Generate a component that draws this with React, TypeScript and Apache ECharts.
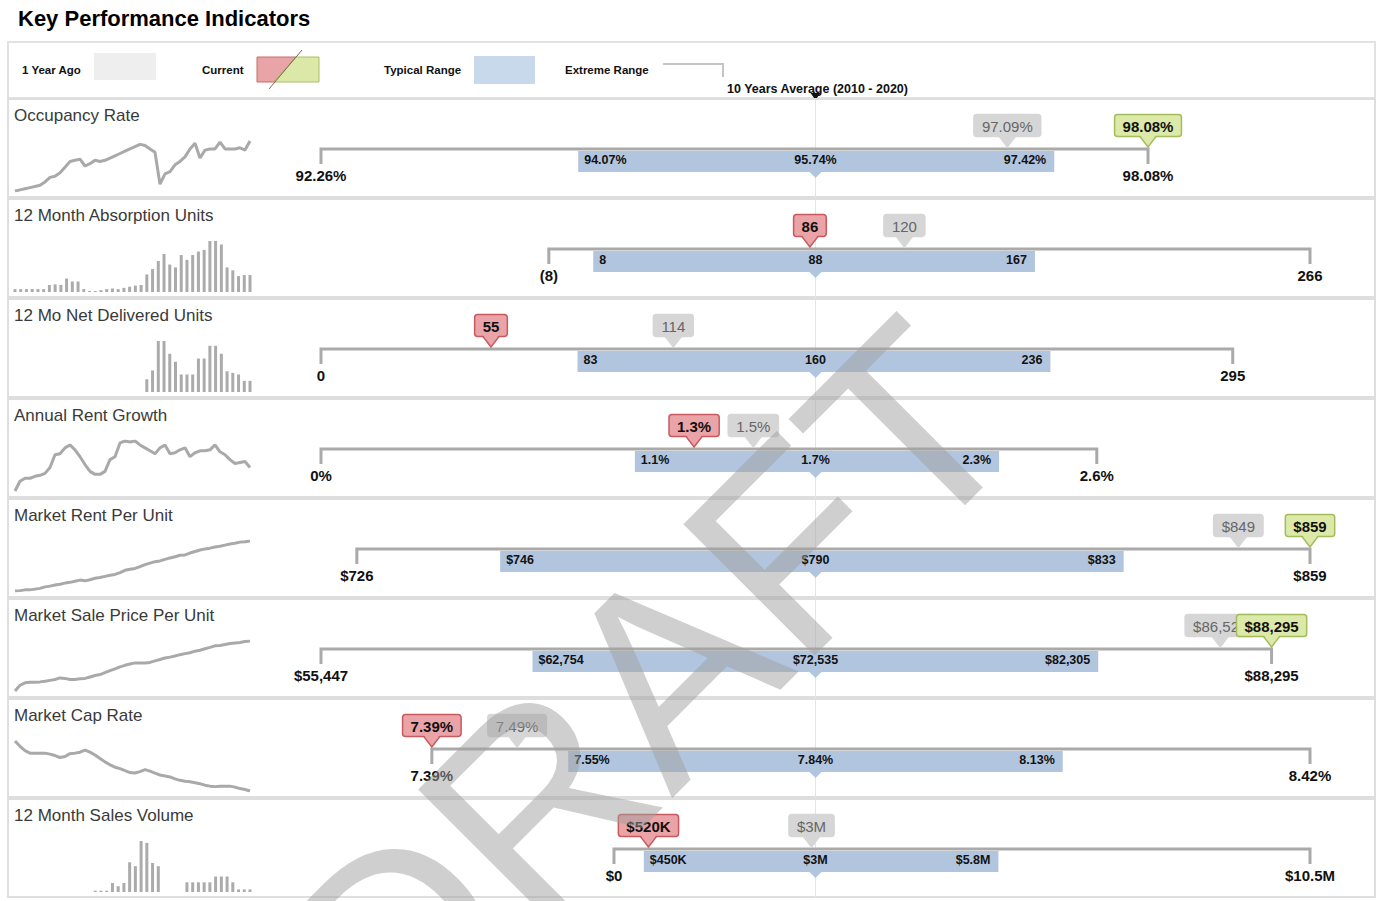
import React, { useEffect, useRef } from 'react';
import * as echarts from 'echarts';

const chartTitle = 'Key Performance Indicators';
const legendLabels = ['1 Year Ago', 'Current', 'Typical Range', 'Extreme Range'];
const averageCaption = '10 Years Average (2010 - 2020)';
const watermarkText = 'DRAFT';

const kpiNames = [
  'Occupancy Rate',
  '12 Month Absorption Units',
  '12 Mo Net Delivered Units',
  'Annual Rent Growth',
  'Market Rent Per Unit',
  'Market Sale Price Per Unit',
  'Market Cap Rate',
  '12 Month Sales Volume',
];
const valueFormats = ['pct2', 'units', 'units', 'pct1', 'dollar', 'dollar', 'pct2', 'money'];
const sparkTypes = ['line', 'bar', 'bar', 'line', 'line', 'line', 'line', 'bar'];

const extremeMin = [92.26, -8, 0, 0, 726, 55447, 7.39, 0];
const typicalLow = [94.07, 8, 83, 1.06, 746, 62754, 7.55, 450000];
const tenYearAvg = [95.74, 88, 160, 1.67, 790, 72535, 7.84, 3040000];
const typicalHigh = [97.42, 167, 236, 2.29, 833, 82305, 8.13, 5800000];
const extremeMax = [98.08, 266, 295, 2.62, 859, 88295, 8.42, 10500000];
const currentValue = [98.08, 86, 55, 1.26, 859, 88295, 7.39, 520000];
const yearAgoValue = [97.09, 120, 114, 1.46, 849, 86521, 7.49, 2980000];

const occupancyHistory = [92.3, 92.4, 92.5, 92.6, 92.7, 92.8, 93.1, 93.5, 93.6, 93.9, 94.4, 94.9, 95.0, 95.1, 94.5, 94.7, 95.0, 94.9, 95.0, 95.2, 95.4, 95.6, 95.8, 96.0, 96.2, 96.4, 96.3, 96.0, 95.7, 92.9, 93.8, 94.0, 94.6, 94.9, 95.3, 96.0, 96.5, 95.2, 95.9, 96.0, 96.0, 96.6, 96.0, 96.0, 96.0, 96.1, 95.9, 96.7];
const absorptionHistory = [14, 14, 14, 14, 14, 14, 34, 37, 34, 65, 51, 51, 14, 5, 5, 9, 14, 17, 14, 20, 26, 31, 34, 85, 111, 150, 184, 133, 119, 179, 156, 179, 196, 204, 247, 247, 230, 119, 105, 77, 82, 82];
const deliveredHistory = [0, 0, 0, 0, 0, 0, 0, 0, 0, 0, 0, 0, 0, 0, 0, 0, 0, 0, 0, 0, 0, 0, 0, 72, 122, 288, 288, 216, 171, 99, 99, 99, 189, 189, 261, 261, 216, 117, 108, 99, 63, 63];
const rentGrowthHistory = [0.0, 0.5, 0.65, 0.65, 0.75, 0.8, 0.9, 1.2, 1.85, 1.9, 2.2, 2.35, 2.1, 1.75, 1.35, 1.0, 0.85, 0.85, 1.0, 1.6, 1.75, 2.45, 2.55, 2.5, 2.55, 2.35, 2.2, 2.05, 1.9, 2.2, 2.35, 1.9, 1.95, 2.1, 2.2, 1.75, 1.95, 2.05, 2.05, 2.1, 2.35, 2.0, 1.85, 1.6, 1.4, 1.45, 1.5, 1.2];
const marketRentHistory = [726, 727, 729, 729, 731, 733, 737, 739, 742, 744, 747, 749, 752, 755, 753, 756, 760, 762, 765, 768, 770, 775, 781, 784, 786, 791, 796, 800, 804, 806, 810, 814, 817, 821, 822, 827, 831, 835, 838, 840, 843, 845, 848, 851, 853, 856, 857, 859];
const salePriceHistory = [55400, 59200, 60800, 61100, 61100, 61400, 61800, 62400, 63000, 64000, 63700, 63000, 63000, 63400, 63700, 64600, 65600, 66200, 67500, 68800, 70000, 71300, 72300, 73200, 73900, 73900, 73900, 74200, 75200, 76100, 77100, 77700, 78400, 79300, 80000, 80600, 81600, 82200, 83200, 84100, 85100, 85400, 86000, 86700, 87000, 87300, 88000, 88300];
const capRateHistory = [8.42, 8.31, 8.22, 8.17, 8.17, 8.17, 8.17, 8.15, 8.12, 8.08, 8.10, 8.16, 8.17, 8.19, 8.23, 8.19, 8.13, 8.06, 7.99, 7.93, 7.88, 7.85, 7.81, 7.77, 7.76, 7.79, 7.83, 7.80, 7.76, 7.72, 7.70, 7.68, 7.64, 7.61, 7.59, 7.58, 7.56, 7.54, 7.51, 7.49, 7.48, 7.49, 7.49, 7.49, 7.47, 7.44, 7.42, 7.39];
const salesVolumeHistory = [0, 0, 0, 0, 0, 0, 0, 0, 0, 0, 0, 0, 0, 0, 0.4, 0.4, 0.4, 2.8, 1.8, 2.8, 9.2, 8.0, 15.8, 15.2, 9.0, 8.0, 0, 0, 0, 0, 3.0, 3.0, 3.0, 3.0, 3.0, 4.8, 4.8, 4.8, 3.0, 0.8, 0.8, 0.8];

const sparkHistories = [occupancyHistory, absorptionHistory, deliveredHistory, rentGrowthHistory, marketRentHistory, salePriceHistory, capRateHistory, salesVolumeHistory];

const FONT = '"Liberation Sans", Arial, Helvetica, sans-serif';
const BLUE = '#b2c5df';
const ROW_TOP = 100;
const ROW_STEP = 100;
const BULLET_LEFT = 321;
const BULLET_WIDTH = 989;

let measureCtx: CanvasRenderingContext2D | null = null;
function measure(text: string, font: string): number {
  if (!measureCtx) measureCtx = document.createElement('canvas').getContext('2d');
  if (!measureCtx) return text.length * 8;
  measureCtx.font = font;
  return measureCtx.measureText(text).width;
}

function strip0(s: string) {
  return s.replace(/\.0$/, '');
}

function formatValue(fmt: string, v: number): string {
  switch (fmt) {
    case 'pct2':
      return v.toFixed(2) + '%';
    case 'pct1':
      return strip0(v.toFixed(1)) + '%';
    case 'units':
      return v < 0 ? '(' + Math.abs(Math.round(v)) + ')' : String(Math.round(v));
    case 'dollar':
      return '$' + Math.round(v).toLocaleString('en-US');
    case 'money':
      if (v >= 1e6) return '$' + strip0((v / 1e6).toFixed(1)) + 'M';
      if (v >= 1e3) return '$' + Math.round(v / 1e3) + 'K';
      return '$' + Math.round(v);
  }
  return String(v);
}

function addMarker(children: any[], x: number, top: number, text: string, kind: string) {
  const pal =
    kind === 'up'
      ? { fill: '#dce9a8', stroke: '#a3bd5c', text: '#111', weight: 'bold' }
      : kind === 'down'
      ? { fill: '#eaa3a6', stroke: '#c85a5f', text: '#111', weight: 'bold' }
      : { fill: '#d6d6d6', stroke: '#d6d6d6', text: '#666', weight: 'normal' };
  const w = measure(text, `${pal.weight} 15px ${FONT}`) + 16;
  const h = 22;
  const by = top + 14.5;
  children.push({
    type: 'rect',
    shape: { x: x - w / 2, y: by, width: w, height: h, r: 3 },
    style: { fill: pal.fill, stroke: pal.stroke, lineWidth: 1.5 },
  });
  children.push({
    type: 'polygon',
    shape: { points: [[x - 8, by + h - 1.5], [x + 8, by + h - 1.5], [x, top + 47]] },
    style: { fill: pal.fill },
  });
  children.push({
    type: 'polyline',
    shape: { points: [[x - 8, by + h], [x, top + 47], [x + 8, by + h]] },
    style: { stroke: pal.stroke, lineWidth: 1.5, fill: 'none' },
  });
  children.push({
    type: 'text',
    x,
    y: by + h / 2 + 0.5,
    style: { text, fill: pal.text, fontSize: 15, fontWeight: pal.weight, fontFamily: FONT, align: 'center', verticalAlign: 'middle' },
  });
}

function makeRenderItem(fmt: string) {
  return (params: any, api: any) => {
    const top = params.coordSys.y;
    const vals = [0, 1, 2, 3, 4, 5, 6].map((k) => api.value(k));
    const xs = vals.map((v) => api.coord([v, 0])[0]);
    const [xMin, xLow, xAvg, xHigh, xMax, xCur, xAgo] = xs;
    const children: any[] = [];
    children.push({ type: 'line', shape: { x1: xAvg, y1: top, x2: xAvg, y2: top + 98 }, style: { stroke: '#e4e4e4', lineWidth: 1 } });
    children.push({
      type: 'polyline',
      shape: { points: [[xMin, top + 64], [xMin, top + 49], [xMax, top + 49], [xMax, top + 64]] },
      style: { stroke: '#aaaaaa', lineWidth: 3, fill: 'none' },
    });
    children.push({ type: 'rect', shape: { x: xLow, y: top + 51, width: xHigh - xLow, height: 21 }, style: { fill: BLUE } });
    children.push({ type: 'polygon', shape: { points: [[xAvg - 6, top + 72], [xAvg + 6, top + 72], [xAvg, top + 78]] }, style: { fill: BLUE } });
    const barText = (x: number, t: string, align: string) => ({
      type: 'text',
      x,
      y: top + 60,
      style: { text: t, fill: '#111', fontSize: 12.5, fontWeight: 'bold', fontFamily: FONT, align, verticalAlign: 'middle' },
    });
    children.push(barText(xLow + 6, formatValue(fmt, vals[1]), 'left'));
    children.push(barText(xAvg, formatValue(fmt, vals[2]), 'center'));
    children.push(barText(xHigh - 8, formatValue(fmt, vals[3]), 'right'));
    const endText = (x: number, t: string) => ({
      type: 'text',
      x,
      y: top + 75,
      style: { text: t, fill: '#111', fontSize: 15, fontWeight: 'bold', fontFamily: FONT, align: 'center', verticalAlign: 'middle' },
    });
    children.push(endText(xMin, formatValue(fmt, vals[0])));
    children.push(endText(xMax, formatValue(fmt, vals[4])));
    addMarker(children, xAgo, top, formatValue(fmt, vals[6]), 'ago');
    addMarker(children, xCur, top, formatValue(fmt, vals[5]), vals[5] >= vals[6] ? 'up' : 'down');
    return { type: 'group', children };
  };
}

function buildOption() {
  const grid: any[] = [];
  const xAxis: any[] = [];
  const yAxis: any[] = [];
  const series: any[] = [];
  const n = kpiNames.length;

  for (let i = 0; i < n; i++) {
    const top = ROW_TOP + ROW_STEP * i;
    const hist = sparkHistories[i];
    const isBar = sparkTypes[i] === 'bar';
    if (isBar) {
      const band = 235 / (hist.length - 1);
      grid.push({ left: 15 - band / 2, width: band * hist.length, top: top + 41, height: 51 });
    } else {
      grid.push({ left: 15, width: 235, top: top + 41, height: 50 });
    }
    xAxis.push({ type: 'category', gridIndex: i, show: false, boundaryGap: isBar, data: hist.map((_, k) => k) });
    yAxis.push(
      isBar
        ? { type: 'value', gridIndex: i, show: false, min: 0, max: 'dataMax' }
        : { type: 'value', gridIndex: i, show: false, scale: true, min: 'dataMin', max: 'dataMax' }
    );
    series.push(
      isBar
        ? { type: 'bar', xAxisIndex: i, yAxisIndex: i, data: hist, barWidth: 3, itemStyle: { color: '#ababab' }, silent: true }
        : {
            type: 'line',
            xAxisIndex: i,
            yAxisIndex: i,
            data: hist,
            showSymbol: false,
            symbol: 'none',
            lineStyle: { color: '#a9a9a9', width: 3 },
            silent: true,
          }
    );
  }

  for (let i = 0; i < n; i++) {
    const top = ROW_TOP + ROW_STEP * i;
    const avg = tenYearAvg[i];
    const hw = Math.max(avg - extremeMin[i], extremeMax[i] - avg);
    grid.push({ left: BULLET_LEFT, width: BULLET_WIDTH, top, height: 98 });
    xAxis.push({ type: 'value', gridIndex: n + i, show: false, min: avg - hw, max: avg + hw });
    yAxis.push({ type: 'value', gridIndex: n + i, show: false, min: 0, max: 98, inverse: true });
    series.push({
      type: 'custom',
      xAxisIndex: n + i,
      yAxisIndex: n + i,
      clip: false,
      silent: true,
      data: [[extremeMin[i], typicalLow[i], tenYearAvg[i], typicalHigh[i], extremeMax[i], currentValue[i], yearAgoValue[i]]],
      renderItem: makeRenderItem(valueFormats[i]),
      z: 3,
    });
  }

  const center = BULLET_LEFT + BULLET_WIDTH / 2;
  const legendText = (x: number, t: string) => ({
    type: 'text',
    x,
    y: 70,
    style: { text: t, fill: '#111', fontSize: 11.5, fontWeight: 'bold', fontFamily: FONT, align: 'left', verticalAlign: 'middle' },
  });

  const graphic: any[] = [
    {
      type: 'text',
      x: 18,
      y: 18,
      style: { text: chartTitle, fill: '#000', fontSize: 22, fontWeight: 'bold', fontFamily: FONT, align: 'left', verticalAlign: 'middle' },
    },
    { type: 'rect', shape: { x: 8, y: 42, width: 1367, height: 56 }, style: { fill: 'none', stroke: '#e2e2e2', lineWidth: 2 }, z: 0 },
    legendText(22, legendLabels[0]),
    { type: 'rect', shape: { x: 94, y: 53, width: 62, height: 27 }, style: { fill: '#eeeeee' } },
    legendText(202, legendLabels[1]),
    { type: 'polygon', shape: { points: [[257, 57], [296, 57], [274, 82], [257, 82]] }, style: { fill: '#e8a4a6', stroke: '#c96a6a', lineWidth: 1 } },
    { type: 'polygon', shape: { points: [[296, 57], [319, 57], [319, 82], [274, 82]] }, style: { fill: '#dce8a8', stroke: '#a9c065', lineWidth: 1 } },
    { type: 'line', shape: { x1: 269, y1: 89, x2: 302, y2: 50 }, style: { stroke: '#6f6f4a', lineWidth: 1 } },
    legendText(384, legendLabels[2]),
    { type: 'rect', shape: { x: 474, y: 56, width: 61, height: 28 }, style: { fill: '#c9d9ec' } },
    legendText(565, legendLabels[3]),
    { type: 'polyline', shape: { points: [[663, 64], [723, 64], [723, 77]] }, style: { stroke: '#c4c4c4', lineWidth: 2, fill: 'none' } },
    {
      type: 'text',
      x: center + 2,
      y: 89,
      style: { text: averageCaption, fill: '#111', fontSize: 12.5, fontWeight: 'bold', fontFamily: FONT, align: 'center', verticalAlign: 'middle' },
    },
    { type: 'polygon', shape: { points: [[center - 5, 93], [center + 5, 93], [center, 100]] }, style: { fill: '#111' } },
  ];

  for (let i = 0; i < n; i++) {
    const top = ROW_TOP + ROW_STEP * i;
    graphic.push({ type: 'rect', shape: { x: 8, y: top - 1, width: 1367, height: 98 }, style: { fill: 'none', stroke: '#dedede', lineWidth: 2 }, z: 0 });
    graphic.push({
      type: 'text',
      x: 14,
      y: top + 15,
      style: { text: kpiNames[i], fill: '#3a3a3a', fontSize: 17, fontFamily: FONT, align: 'left', verticalAlign: 'middle' },
    });
  }

  graphic.push({
    type: 'text',
    x: 648,
    y: 690,
    rotation: Math.PI / 4,
    z: 100,
    style: { text: watermarkText, fill: 'rgba(160,160,160,0.5)', fontSize: 270, fontFamily: FONT, align: 'center', verticalAlign: 'middle' },
  });

  return { animation: false, backgroundColor: '#ffffff', grid, xAxis, yAxis, series, graphic };
}

export default function App() {
  const ref = useRef<HTMLDivElement>(null);
  useEffect(() => {
    if (!ref.current) return;
    const chart = echarts.init(ref.current, undefined, { renderer: 'svg' });
    chart.setOption(buildOption() as any);
    return () => chart.dispose();
  }, []);
  return <div ref={ref} style={{ position: 'fixed', left: 0, top: 0, width: 1377, height: 901, background: '#fff' }} />;
}
